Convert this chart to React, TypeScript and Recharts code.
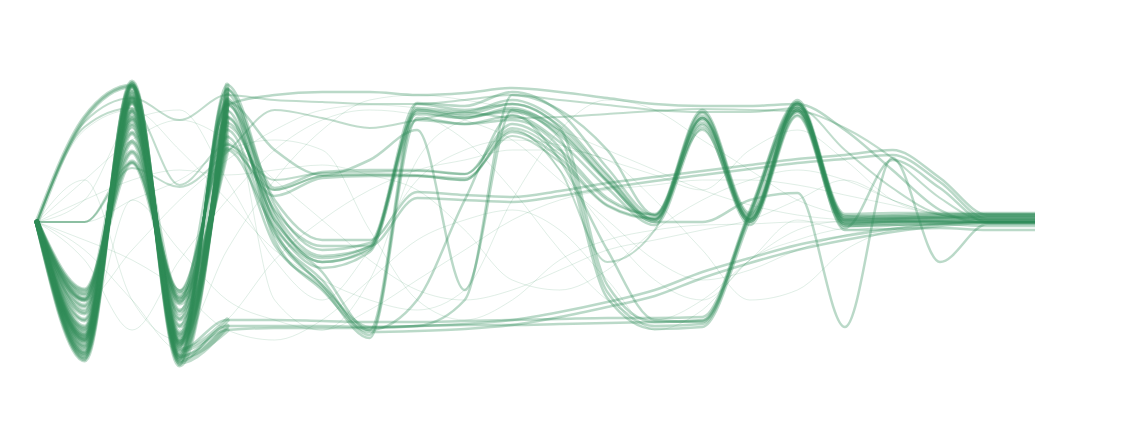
import { Line, LineChart, XAxis, YAxis } from "recharts";

// 22 time steps; value = signal level (0 = baseline, positive = up)
const steps = [0, 1, 2, 3, 4, 5, 6, 7, 8, 9, 10, 11, 12, 13, 14, 15, 16, 17, 18, 19, 20, 21];

// steps 0-4: the big opening oscillation, one entry per trajectory
const headM1 = [0, -138, 140, -143, 137];
const headM2 = [0, -132, 136, -138, 133];
const headM3 = [0, -126, 131, -132, 128];
const headM4 = [0, -119, 125, -125, 123];
const headM5 = [0, -112, 119, -118, 117];
const headM6 = [0, -105, 112, -111, 111];
const headM7 = [0, -98, 105, -104, 105];
const headM8 = [0, -91, 97, -97, 99];
const headM9 = [0, -84, 89, -89, 92];
const headM10 = [0, -77, 80, -81, 85];
const headM11 = [0, -72, 70, -75, 78];
const headM12 = [0, -68, 60, -70, 72];
const headM13 = [0, -116, 124, -121, 121];

// steps 5-21: where the trajectories go afterwards
const tailB2a = [17, -28, -21, 119, 116, 130, 110, 54, 6, 109, 6, 118, 6, 6, 7, 8, 8];
const tailB2b = [10, -34, -25, 114, 110, 122, 100, 48, 3, 104, 3, 114, 2, 3, 4, 5, 5];
const tailB2c = [2, -40, -28, 108, 104, 114, 90, 41, 0, 99, 0, 110, -2, 0, 1, 2, 2];
const tailB2d = [-6, -46, -30, 102, 98, 106, 80, 34, -3, 94, -3, 106, -6, 62, 34, 0, 0];
const tailUp1a = [34, 50, 52, 52, 48, 98, 72, 24, 8, 112, 9, 122, 8, 9, 9, 9, 9];
const tailUp1b = [26, 44, 46, 46, 42, 90, 64, 17, 4, 106, 2, 119, 3, 4, 5, 6, 6];
const tailB3a = [-2, -50, -108, 118, 112, 118, 94, -63, -100, -98, 10, 118, 0, 1, 1, 0, 0];
const tailB3b = [-10, -58, -113, 112, 106, 110, 84, -70, -104, -102, 6, 114, -4, -3, -2, -4, -4];
const tailB3c = [-23, -66, -116, 104, 98, 102, 74, -76, -107, -105, 2, 110, -8, -7, -6, -8, -8];
const tailUp2a = [22, -18, -18, 30, 27, 25, 31, 39, 45, 51, 57, 63, 67, 72, 44, 7, 7];
const tailUp2b = [12, -24, -24, 24, 22, 20, 26, 34, 41, 47, 53, 59, 63, 67, 40, 3, 3];
const tailDiagA = [-13, -63, -105, -104, -102, -98, -90, -80, -68, -50, -36, -23, -14, -7, -2, 0, 0];
const tailDiagB = [-18, -68, -110, -109, -107, -103, -95, -85, -74, -56, -41, -28, -18, -10, -4, -1, -1];

// other dense trajectories, all 22 steps
const floorA = [0, -135, 138, -140, -104, -104, -104, -105, -104, -103, -103, -102, -101, -100, -99, 8, 116, 1, 2, 3, 4, 4];
const floorB = [0, -123, 128, -128, -98, -98, -99, -100, -100, -99, -98, -97, -96, -96, -95, 12, 120, 4, 5, 6, 7, 7];
const earlyUpA = [0, 104, 136, -135, 132, 7, -40, -26, 112, 108, 118, 96, 46, 2, 102, 2, 112, 0, 1, 2, 3, 3];
const dipLate = [0, -108, 110, -114, 104, 2, -36, -24, 110, 104, 112, 87, 40, 0, 0, 22, 29, -105, 64, -40, -2, -2];
const dipMid = [0, -118, 122, -123, 120, 72, 47, 62, 92, -68, 112, 92, 42, 2, 97, 0, 112, -2, 0, 0, 1, 1];
const highA = [0, -78, 102, -78, 117, 127, 130, 130, 127, 129, 134, 130, 124, 118, 116, 116, 118, 92, 52, 12, -1, -1];
const riseA = [0, -130, 136, -135, -108, -106, -106, -106, -104, -78, 127, 112, 72, 7, 104, 4, 118, 4, 4, 5, 6, 6];
const riseB = [0, -114, 120, -120, 118, -8, -63, -108, -78, 22, 107, 62, -28, -98, -100, 8, 112, -2, -1, 0, -1, -1];

// medium trajectories
const earlyUpB = [0, 100, 124, 102, 127, 122, 120, 118, 118, 122, 127, 122, 117, 112, 110, 110, 114, 72, 34, 8, 3, 3];
const earlyUpC = [0, 95, 114, 37, 77, 42, 49, 50, 51, 48, 94, 68, 22, 7, 110, 7, 120, 6, 7, 8, 8, 8];
const lateA = [0, 0, 59, -68, 74, 32, 46, 48, 47, 44, 86, 60, 16, 3, 104, 3, 116, 2, 3, 4, 5, 5];
const lateB = [0, 0, 54, 35, 70, 112, 104, 94, 102, 110, 104, 105, 108, 111, 113, 112, 111, 94, 64, 24, 1, 1];
const loopA = [0, -88, 94, -93, 96, 32, 46, 47, 46, 42, 92, 52, -40, -8, 92, 0, 107, -4, -3, -2, 0, 0];

// sparse, faint trajectories
const faintA = [0, 0, 22, 42, 72, 82, 72, -8, -78, -98, -78, -38, -18, -8, -3, -2, 0, 0, 0, 0, 0, 0];
const faintB = [0, -78, -28, 22, 62, 92, 112, 117, 114, 102, 82, 42, 2, -38, -58, -48, -28, -13, -6, -2, 0, 0];
const faintC = [0, -108, 22, -28, -78, -98, -108, -88, -58, -28, 2, 22, 32, 37, 42, 42, 37, 27, 17, 7, 2, 2];
const faintD = [0, 92, 112, 72, 22, -28, -58, -78, -88, -68, 22, 92, 122, 112, 82, 52, 22, 7, 2, 0, 0, 0];
const faintE = [0, -28, -78, -128, -98, -38, 2, 32, 52, 62, 72, 72, 62, 22, -28, -78, -68, -28, -8, -2, 0, 0];
const faintF = [0, 42, 82, 102, 82, 42, 2, -38, -68, -78, -68, -48, -28, -18, -8, 2, 22, 42, 22, 7, 0, 0];
const faintG = [0, -98, 82, -108, 112, -78, -108, -58, 62, 102, 112, 52, -8, -58, -78, -38, 2, -8, -4, -1, 0, 0];
const faintH = [0, 22, 42, 52, 47, 52, 57, 47, 32, -8, -58, -68, -48, -8, 22, 42, 52, 42, 22, 7, 2, 2];
const faintI = [0, -38, -108, -38, 22, 72, 102, 112, 107, 82, 32, -28, -78, -98, -78, -38, -8, 2, 7, 4, 1, 1];
const faintJ = [0, 42, -78, -118, -28, 42, 92, 122, 127, 122, 112, 92, 72, 52, 32, 17, 7, 2, 0, 0, 0, 0];
const faintK = [0, -18, -38, -68, -108, -118, -98, -58, -18, 2, 12, -8, -58, -108, -88, -38, -18, -6, -2, 0, 0, 0];
const faintL = [0, 22, 102, 112, 42, -38, -78, -28, 42, 72, 82, 77, 62, 47, 32, 72, 92, 62, 22, 7, 2, 2];

const dense = [
  [...headM1, ...tailB2a],
  [...headM2, ...tailUp1a],
  [...headM3, ...tailB3a],
  [...headM4, ...tailB2b],
  [...headM5, ...tailUp2a],
  [...headM6, ...tailB3b],
  [...headM7, ...tailB2c],
  [...headM8, ...tailUp2b],
  [...headM9, ...tailDiagA],
  [...headM10, ...tailB3c],
  [...headM11, ...tailUp1b],
  [...headM12, ...tailB2d],
  [...headM13, ...tailDiagB],
  floorA,
  floorB,
  earlyUpA,
  dipLate,
  dipMid,
  highA,
  riseA,
  riseB,
];
const medium = [earlyUpB, earlyUpC, lateA, lateB, loopA];
const faint = [faintA, faintB, faintC, faintD, faintE, faintF, faintG, faintH, faintI, faintJ, faintK, faintL];

const GREEN = "#2e8b57";
const HEAD_END = 4;

const all = [...dense, ...medium, ...faint];
const data = steps.map((step, i) => {
  const row: Record<string, number | null> = { step };
  all.forEach((s, j) => (row[`s${j}`] = s[i]));
  dense.forEach((s, j) => (row[`h${j}`] = i <= HEAD_END ? s[i] : null));
  return row;
});

export default function App() {
  return (
    <LineChart width={1123} height={426} data={data} margin={{ top: 0, right: 96, bottom: 0, left: 29 }}>
      <XAxis dataKey="step" type="number" domain={[0, 21]} hide />
      <YAxis type="number" domain={[-212, 214]} hide width={0} />
      {faint.map((_, k) => (
        <Line
          key={`f${k}`}
          dataKey={`s${dense.length + medium.length + k}`}
          type="monotone"
          stroke={GREEN}
          strokeOpacity={0.15}
          strokeWidth={1}
          dot={false}
          isAnimationActive={false}
        />
      ))}
      {medium.map((_, k) => (
        <Line
          key={`m${k}`}
          dataKey={`s${dense.length + k}`}
          type="monotone"
          stroke={GREEN}
          strokeOpacity={0.3}
          strokeWidth={2}
          dot={false}
          isAnimationActive={false}
        />
      ))}
      {dense.map((_, k) => (
        <Line
          key={`d${k}`}
          dataKey={`s${k}`}
          type="monotone"
          stroke={GREEN}
          strokeOpacity={0.33}
          strokeWidth={2.5}
          dot={false}
          isAnimationActive={false}
        />
      ))}
      {/* extra weight for the opening oscillation, where the bundle is densest */}
      {dense.map((_, k) => (
        <Line
          key={`h${k}`}
          dataKey={`h${k}`}
          type="monotone"
          stroke={GREEN}
          strokeOpacity={0.3}
          strokeWidth={5}
          strokeLinecap="round"
          dot={false}
          isAnimationActive={false}
        />
      ))}
    </LineChart>
  );
}
